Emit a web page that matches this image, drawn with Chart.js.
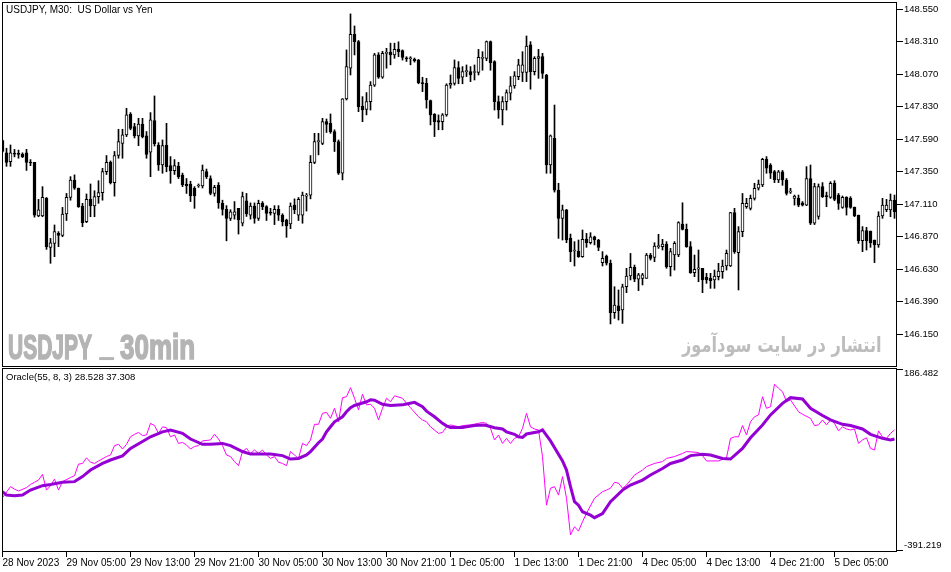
<!DOCTYPE html>
<html>
<head>
<meta charset="utf-8">
<script src="https://cdn.jsdelivr.net/npm/chart.js@4.4.0/dist/chart.umd.min.js"></script>
<style>
  body { margin: 0; background: #fff; width: 951px; height: 572px; overflow: hidden; position: relative; }
  canvas { position: absolute; left: 0; }
  #main { top: 0; }
  #osc { top: 366px; }
  .txt { position: absolute; white-space: pre; color: #000; font: 10px 'Liberation Sans', sans-serif; line-height: 12px; }
  .wm { position: absolute; white-space: pre; color: #b4b4b4; font: bold 35px 'Liberation Sans', sans-serif; line-height: 35px; transform-origin: 0 0; -webkit-text-stroke: 1.6px #b4b4b4; }
  .fa { position: absolute; white-space: pre; color: #bdbdbd; font: bold 21px 'DejaVu Sans', sans-serif; line-height: 24px; transform-origin: 0 0; direction: rtl; }
</style>
</head>
<body>
<canvas id="main" width="951" height="367"></canvas>
<canvas id="osc" width="951" height="206"></canvas>
<div class="txt" style="left:6px;top:4px">USDJPY, M30:  US Dollar vs Yen</div>
<div class="txt" style="left:6px;top:371px;font-size:9.5px">Oracle(55, 8, 3) 28.528 37.308</div>
<div class="wm" id="wm1" style="left:8px;top:329px">USDJPY</div>
<div class="wm" id="wm2" style="left:100px;top:325px">_</div>
<div class="wm" id="wm3" style="left:120px;top:329px">30min</div>
<div class="fa" id="wm4" style="left:682px;top:333px">انتشار در سایت سودآموز</div>
<script>
// USDJPY M30, 28 Nov 21:00 .. 5 Dec 12:30 (224 bars)
const open = [147.58,147.49,147.425,147.485,147.48,147.48,147.49,147.418,147.42,147.023,
147.023,147.154,146.792,146.821,146.895,146.88,147.038,147.161,147.289,147.228,
147.097,146.981,147.146,147.097,147.166,147.196,147.35,147.42,147.27,147.47,
147.56,147.622,147.775,147.683,147.615,147.703,147.615,147.494,147.728,147.548,
147.40,147.548,147.395,147.358,147.392,147.326,147.26,147.26,147.228,147.245,
147.245,147.351,147.30,147.19,147.25,147.117,147.072,147.006,147.03,147.08,
146.97,147.136,147.03,147.097,147.006,147.117,147.092,147.05,147.043,147.072,
147.03,146.994,146.964,147.104,147.03,147.03,147.17,147.178,147.42,147.573,
147.56,147.72,147.708,147.647,147.573,147.339,147.888,148.115,148.365,148.311,
147.836,147.81,147.868,147.99,148.213,148.048,148.225,148.232,148.213,148.254,
148.245,148.19,148.185,148.18,148.175,148.008,148.003,147.875,147.775,147.728,
147.72,147.77,147.99,148.003,148.12,148.048,148.09,148.09,148.083,148.083,
148.188,148.188,148.311,148.164,147.868,147.806,147.868,147.93,147.984,148.053,
148.083,148.083,148.287,148.09,148.188,148.2,148.065,147.4,147.597,147.215,
147.006,147.068,146.858,146.765,146.765,146.723,146.851,146.826,146.87,146.846,
146.679,146.728,146.674,146.309,146.359,146.329,146.501,146.58,146.644,146.556,
146.563,146.563,146.735,146.718,146.797,146.797,146.816,146.649,146.735,146.735,
146.964,146.925,146.797,146.605,146.63,146.637,146.57,146.563,146.551,146.575,
146.612,146.654,146.654,147.048,146.752,146.908,147.092,147.08,147.154,147.228,
147.252,147.442,147.4,147.351,147.29,147.35,147.289,147.2,147.154,147.154,
147.12,147.104,147.3,146.97,147.02,147.24,147.17,147.161,147.265,147.178,
147.087,147.161,147.154,147.087,147.03,146.841,146.915,146.91,146.846,146.809,
147.023,147.07,147.068,147.141];
const high = [147.585,147.524,147.548,147.515,147.51,147.49,147.516,147.44,147.42,147.146,
147.24,147.16,146.858,146.957,146.908,147.087,147.19,147.314,147.327,147.23,
147.117,147.186,147.26,147.21,147.284,147.376,147.47,147.43,147.5,147.664,
147.664,147.819,147.787,147.708,147.745,147.745,147.647,147.787,147.91,147.565,
147.585,147.708,147.462,147.44,147.42,147.34,147.30,147.28,147.24,147.26,
147.40,147.37,147.32,147.25,147.27,147.14,147.1,147.07,147.13,147.08,
147.2,147.19,147.12,147.12,147.14,147.13,147.1,147.08,147.1,147.1,
147.04,147.0,147.12,147.15,147.16,147.2,147.19,147.47,147.634,147.634,
147.745,147.74,147.777,147.66,147.585,147.89,148.25,148.516,148.427,148.32,
147.905,147.935,148.016,148.225,148.23,148.24,148.262,148.3,148.3,148.31,
148.25,148.2,148.2,148.19,148.18,148.048,148.04,147.88,147.78,147.77,
147.78,148.0,148.065,148.176,148.164,148.127,148.139,148.127,148.139,148.254,
148.237,148.316,148.316,148.17,147.91,147.905,147.955,148.053,148.09,148.181,
148.237,148.353,148.311,148.2,148.254,148.225,148.07,147.622,147.843,147.265,
147.104,147.072,146.89,146.834,146.846,146.92,146.895,146.9,146.875,146.851,
146.76,146.735,146.698,146.501,146.477,146.52,146.637,146.747,146.661,146.6,
146.6,146.747,146.747,146.826,146.888,146.851,146.834,146.784,146.834,146.981,
147.121,146.964,146.834,146.735,146.772,146.637,146.6,146.6,146.624,146.674,
146.698,146.772,147.05,147.08,146.945,147.19,147.154,147.178,147.265,147.289,
147.45,147.462,147.41,147.36,147.36,147.36,147.3,147.228,147.178,147.178,
147.13,147.388,147.4,147.265,147.26,147.27,147.2,147.277,147.284,147.19,
147.171,147.166,147.166,147.09,147.03,146.945,146.94,146.913,146.846,147.055,
147.154,147.146,147.186,147.178];
const low = [147.495,147.39,147.39,147.46,147.45,147.455,147.36,147.395,147.015,147.018,
147.018,146.777,146.674,146.723,146.797,146.87,146.99,147.14,147.22,147.087,
146.944,146.974,147.018,147.018,147.117,147.14,147.33,147.26,147.17,147.45,
147.45,147.61,147.66,147.60,147.543,147.60,147.45,147.314,147.54,147.36,
147.339,147.35,147.265,147.33,147.30,147.24,147.19,147.13,147.08,147.235,
147.23,147.30,147.18,147.17,147.08,147.03,146.84,146.99,147.0,146.89,
146.95,147.02,147.0,146.97,146.99,147.07,146.99,147.03,146.96,146.99,
146.95,146.866,146.93,147.04,146.99,146.97,147.06,147.15,147.41,147.475,
147.55,147.64,147.634,147.5,147.33,147.29,147.88,148.065,148.213,147.794,
147.72,147.77,147.806,147.98,148.04,148.04,148.115,148.14,148.188,148.2,
148.175,148.165,148.14,148.16,148.0,147.942,147.82,147.696,147.61,147.66,
147.66,147.76,147.967,147.99,148.0,148.0,148.053,148.016,148.028,148.065,
148.1,148.17,148.1,147.806,147.745,147.696,147.806,147.88,147.967,148.03,
148.016,148.016,147.96,148.065,148.04,148.04,147.339,147.339,147.2,146.858,
146.846,146.826,146.686,146.654,146.718,146.718,146.792,146.816,146.81,146.767,
146.654,146.661,146.226,146.267,146.255,146.23,146.457,146.551,146.538,146.472,
146.514,146.563,146.698,146.686,146.784,146.772,146.637,146.58,146.624,146.723,
146.92,146.792,146.6,146.575,146.538,146.457,146.526,146.489,146.489,146.551,
146.563,146.624,146.65,146.747,146.477,146.87,147.08,147.068,147.141,147.215,
147.24,147.339,147.3,147.27,147.27,147.25,147.178,147.19,147.104,147.092,
147.097,147.1,146.96,146.96,147.0,147.16,147.092,147.154,147.136,147.072,
147.08,147.03,147.08,147.018,146.821,146.76,146.772,146.792,146.679,146.792,
147.006,147.055,147.018,147.006];
const close = [147.50,147.42,147.49,147.48,147.478,147.46,147.42,147.415,147.03,147.068,
147.161,146.797,146.826,146.908,146.88,147.038,147.161,147.289,147.228,147.092,
146.974,147.146,147.097,147.166,147.196,147.351,147.42,147.27,147.47,147.573,
147.622,147.77,147.67,147.615,147.703,147.61,147.479,147.733,147.555,147.40,
147.543,147.388,147.358,147.395,147.314,147.252,147.245,147.171,147.171,147.245,
147.363,147.314,147.19,147.235,147.12,147.072,147.006,147.055,147.055,146.994,
147.166,147.038,147.097,147.006,147.117,147.092,147.043,147.045,147.072,147.03,
146.981,146.95,147.097,147.068,147.146,147.178,147.172,147.42,147.573,147.573,
147.72,147.70,147.647,147.573,147.339,147.888,148.127,148.365,148.311,147.831,
147.806,147.868,147.99,148.213,148.048,148.225,148.23,148.213,148.254,148.237,
148.195,148.185,148.186,148.17,148.008,148.0,147.88,147.77,147.72,147.716,
147.77,147.99,148.003,148.12,148.04,148.09,148.097,148.065,148.083,148.195,
148.188,148.311,148.156,147.868,147.806,147.868,147.935,147.984,148.058,148.139,
148.139,148.279,148.09,148.188,148.2,148.077,147.4,147.615,147.215,147.006,
147.068,146.846,146.76,146.765,146.723,146.851,146.826,146.87,146.846,146.792,
146.71,146.674,146.309,146.366,146.324,146.501,146.58,146.644,146.556,146.588,
146.588,146.735,146.71,146.802,146.797,146.816,146.649,146.76,146.821,146.974,
146.925,146.797,146.605,146.63,146.64,146.551,146.551,146.546,146.58,146.617,
146.654,146.747,147.048,146.76,146.908,147.117,147.117,147.154,147.228,147.26,
147.442,147.376,147.339,147.289,147.35,147.289,147.19,147.2,147.17,147.104,
147.104,147.3,146.97,147.24,147.24,147.166,147.166,147.265,147.146,147.117,
147.161,147.087,147.087,147.023,146.841,146.915,146.841,146.826,146.809,147.023,
147.104,147.104,147.141,147.055];

// Oracle(55,8,3): [bar index, value]
const fastLine = [[0,-224],[2,-189],[3,-197],[4,-203],[6,-192],[7,-182],[8,-175],[9,-168],[10,-150],[11,-200],
[12,-186],[13,-165],[14,-200],[15,-173],[17,-160],[18,-154],[19,-117],[20,-115],[21,-97],[22,-111],
[23,-115],[24,-107],[26,-93],[27,-88],[28,-58],[29,-54],[30,-69],[31,-54],[32,-30],[33,-22],
[34,-16],[35,-26],[36,-24],[37,13],[38,6],[39,-19],[40,2],[41,-1],[42,-30],[43,-24],
[44,-51],[45,-48],[46,-56],[47,-69],[48,-61],[49,-58],[50,-43],[52,-40],[53,-22],[54,-37],
[55,-58],[56,-88],[57,-93],[58,-109],[59,-122],[60,-77],[61,-67],[62,-83],[63,-72],[64,-83],
[65,-72],[66,-88],[67,-99],[68,-93],[69,-111],[70,-115],[71,-122],[72,-77],[73,-88],[74,-99],
[75,-51],[76,-58],[77,-40],[78,10],[79,10],[80,45],[81,48],[82,29],[83,61],[84,18],
[85,95],[86,98],[87,127],[88,93],[89,56],[90,106],[91,72],[92,74],[93,61],[94,24],
[95,61],[96,93],[97,82],[98,101],[100,93],[101,77],[102,63],[104,34],[105,24],[106,18],
[107,2],[109,-19],[110,-16],[111,2],[112,8],[114,2],[115,6],[117,8],[119,13],[120,16],
[121,13],[122,-3],[123,-40],[124,-24],[125,-51],[126,-35],[127,-51],[128,-35],[129,-30],[130,-3],
[131,45],[132,2],[133,-5],[134,-8],[135,-93],[136,-248],[137,-194],[138,-189],[139,-216],[140,-157],
[141,-226],[142,-343],[143,-317],[144,-331],[145,-301],[146,-274],[148,-226],[150,-205],[151,-200],[152,-194],
[153,-175],[154,-178],[155,-194],[156,-184],[158,-152],[160,-136],[161,-125],[163,-115],[165,-109],[166,-99],
[168,-93],[170,-83],[171,-77],[174,-80],[175,-90],[176,-107],[177,-107],[179,-107],[181,-97],[182,-35],
[183,-30],[184,-30],[185,6],[186,-24],[187,18],[188,34],[189,40],[190,98],[191,61],[192,66],
[193,138],[194,125],[195,114],[196,82],[197,88],[199,50],[200,42],[202,29],[203,6],[204,8],
[205,24],[206,8],[207,24],[208,13],[209,-11],[210,2],[211,-5],[212,-8],[213,-5],[214,-51],
[215,-40],[216,-33],[217,-67],[218,-72],[219,-11],[220,-30],[221,-35],[222,-19],[223,-8]];
const slowLine = [[0,-205],[1,-216],[3,-218],[5,-216],[7,-200],[10,-186],[12,-182],[15,-175],[18,-173],[20,-157],
[22,-136],[25,-115],[27,-104],[30,-91],[32,-67],[35,-45],[37,-30],[40,-14],[42,-8],[45,-19],
[47,-37],[50,-54],[52,-54],[55,-51],[57,-58],[60,-77],[62,-85],[67,-85],[70,-90],[72,-101],
[74,-99],[76,-88],[77,-77],[79,-49],[80,-37],[81,-14],[82,2],[83,18],[85,34],[86,50],
[87,63],[88,70],[89,74],[91,82],[92,88],[93,87],[95,74],[97,70],[100,72],[101,75],
[103,80],[105,66],[106,52],[108,34],[110,13],[111,5],[112,0],[115,0],[116,2],[118,6],
[120,8],[121,6],[123,-1],[125,-5],[126,-14],[128,-22],[129,-30],[130,-32],[131,-21],[133,-16],
[134,-14],[135,-8],[137,-43],[140,-107],[141,-136],[142,-189],[143,-237],[144,-248],[145,-269],[147,-280],
[148,-288],[150,-275],[152,-237],[155,-200],[157,-184],[160,-168],[162,-152],[165,-131],[167,-115],[170,-104],
[172,-90],[175,-86],[177,-88],[180,-99],[182,-101],[185,-67],[187,-33],[190,8],[192,40],[195,77],
[197,95],[200,91],[202,61],[205,38],[207,24],[210,10],[212,6],[215,-5],[217,-22],[220,-35],
[222,-40],[223,-37]];

const timeLabels = ['28 Nov 2023', '29 Nov 05:00', '29 Nov 13:00', '29 Nov 21:00', '30 Nov 05:00',
  '30 Nov 13:00', '30 Nov 21:00', '1 Dec 05:00', '1 Dec 13:00', '1 Dec 21:00',
  '4 Dec 05:00', '4 Dec 13:00', '4 Dec 21:00', '5 Dec 05:00'];
const barsPerLabel = 16;
const priceTicks = [148.55, 148.31, 148.07, 147.83, 147.59, 147.35, 147.11, 146.87, 146.63, 146.39, 146.15];
const oscTicks = [186.482, -391.219];

const FONT = "'Liberation Sans', sans-serif";

// black frame round each plot area
const frame = {
  id: 'frame',
  afterDraw(chart) {
    const { ctx, chartArea: a } = chart;
    ctx.save();
    ctx.strokeStyle = '#000';
    ctx.lineWidth = 1;
    ctx.strokeRect(a.left + 0.5, a.top + 0.5, a.right - a.left - 1, a.bottom - a.top - 1);
    ctx.restore();
  }
};

// fixed axis size, and no extra room for labels that hang over the ends
function fixSize(w, h) {
  return (s) => {
    if (w) s.width = w;
    if (h) s.height = h;
    s.paddingTop = 0; s.paddingBottom = 0; s.paddingLeft = 0; s.paddingRight = 0;
  };
}

const idx = open.map((_, i) => i);
const up = idx.map(i => close[i] >= open[i]);

new Chart(document.getElementById('main'), {
  type: 'bar',
  data: {
    datasets: [
      {
        data: idx.map(i => ({ x: i, y: [open[i], close[i]] })),
        barThickness: 3,
        borderWidth: 1,
        borderColor: '#000',
        backgroundColor: up.map(u => (u ? '#fff' : '#000')),
        borderSkipped: false,
        minBarLength: 1,
        grouped: false
      },
      {
        data: idx.map(i => ({ x: i, y: [low[i], high[i]] })),
        barThickness: 1,
        borderWidth: 0,
        backgroundColor: '#000',
        minBarLength: 1,
        grouped: false
      }
    ]
  },
  options: {
    responsive: false,
    animation: false,
    devicePixelRatio: 1,
    events: [],
    layout: { padding: { left: 2, top: 2, right: 0, bottom: 0 } },
    plugins: { legend: { display: false }, tooltip: { enabled: false } },
    scales: {
      x: { type: 'linear', display: false, min: -0.125, max: 223.625, offset: false },
      y: {
        position: 'right',
        min: 145.908,
        max: 148.604,
        afterFit: fixSize(54, 0),
        afterBuildTicks: (s) => { s.ticks = priceTicks.map(v => ({ value: v })); },
        grid: { drawOnChartArea: false, color: '#000', tickLength: 6 },
        border: { display: false },
        ticks: { color: '#000', padding: 1, font: { family: FONT, size: 9.5 }, callback: (v) => v.toFixed(3) }
      }
    }
  },
  plugins: [frame]
});

new Chart(document.getElementById('osc'), {
  type: 'line',
  data: {
    datasets: [
      { data: slowLine.map(([x, y]) => ({ x, y })), borderColor: '#9400d3', borderWidth: 3, pointRadius: 0, tension: 0 },
      { data: fastLine.map(([x, y]) => ({ x, y })), borderColor: '#ff00ff', borderWidth: 1, pointRadius: 0, tension: 0 }
    ]
  },
  options: {
    responsive: false,
    animation: false,
    devicePixelRatio: 1,
    events: [],
    layout: { padding: { left: 2, top: 2, right: 0, bottom: 0 } },
    plugins: { legend: { display: false }, tooltip: { enabled: false } },
    scales: {
      x: {
        type: 'linear',
        min: -0.125,
        max: 223.625,
        afterFit: fixSize(0, 20),
        afterBuildTicks: (s) => { s.ticks = timeLabels.map((_, k) => ({ value: k * barsPerLabel })); },
        grid: { drawOnChartArea: false, color: '#000', tickLength: 5 },
        border: { display: false },
        ticks: {
          color: '#000', padding: 0, align: 'start', maxRotation: 0, autoSkip: false,
          font: { family: FONT, size: 10 },
          callback: (v, k) => timeLabels[k]
        }
      },
      y: {
        position: 'right',
        min: -397.6,
        max: 189.674,
        afterFit: fixSize(54, 0),
        afterBuildTicks: (s) => { s.ticks = oscTicks.map(v => ({ value: v })); },
        grid: { drawOnChartArea: false, color: '#000', tickLength: 6 },
        border: { display: false },
        ticks: {
          color: '#000', padding: 1,
          font: { family: FONT, size: 9.5, lineHeight: 0.9 },
          // nudge the end labels inside the panel like the terminal does
          callback: (v, k) => (k === 0 ? ['', oscTicks[k].toFixed(3)] : [oscTicks[k].toFixed(3), ''])
        }
      }
    }
  },
  plugins: [frame]
});

// squeeze the watermarks to the widths seen in the picture
function fit(id, w) {
  const el = document.getElementById(id);
  el.style.transform = 'scaleX(' + (w / el.offsetWidth) + ')';
}
fit('wm1', 84);
fit('wm2', 13);
fit('wm3', 75);
fit('wm4', 200);
</script>
</body>
</html>
